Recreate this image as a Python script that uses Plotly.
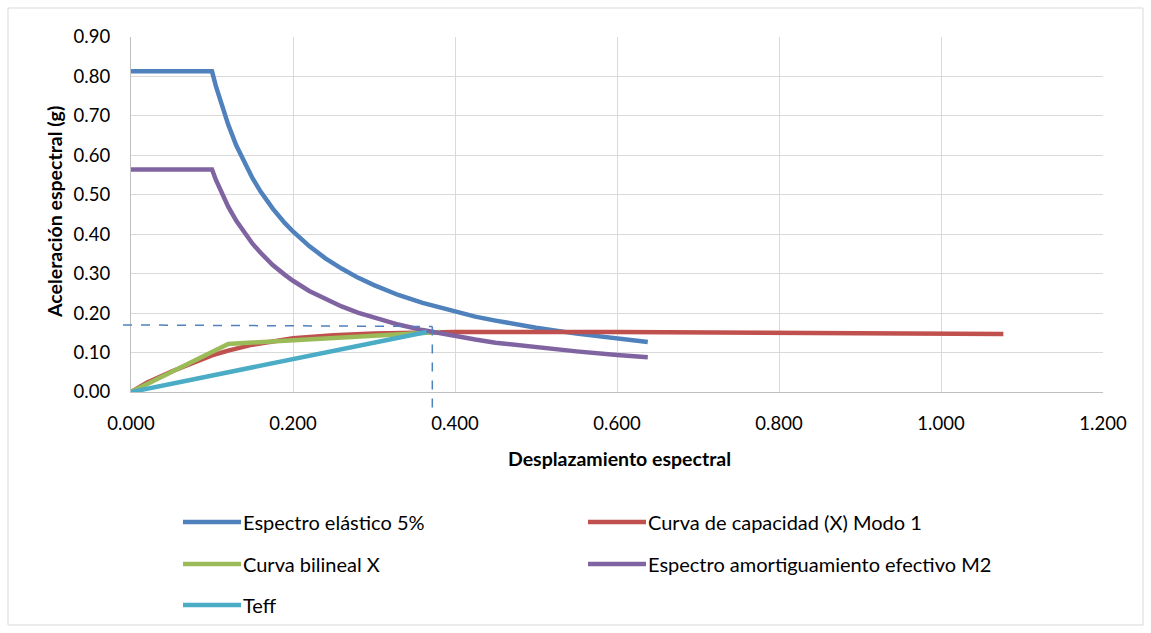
import plotly.graph_objects as go

# Spectral displacement (m) / spectral acceleration (g) samples
sd_spec = [0.0, 0.1, 0.105, 0.11, 0.115, 0.12, 0.13, 0.14, 0.15, 0.16, 0.175, 0.19,
           0.2, 0.22, 0.24, 0.26, 0.28, 0.3, 0.33, 0.36, 0.4, 0.425, 0.45, 0.475, 0.5,
           0.55, 0.6, 0.638]
sa_elastic = [0.813, 0.813, 0.774, 0.739, 0.707, 0.678, 0.625, 0.581, 0.542, 0.508,
              0.465, 0.428, 0.407, 0.370, 0.339, 0.313, 0.290, 0.271, 0.246, 0.226,
              0.203, 0.191, 0.181, 0.171, 0.163, 0.148, 0.136, 0.127]
sa_damped = [0.564, 0.564, 0.537, 0.513, 0.490, 0.470, 0.434, 0.403, 0.376, 0.353,
             0.322, 0.297, 0.282, 0.256, 0.235, 0.217, 0.201, 0.188, 0.171, 0.157,
             0.141, 0.133, 0.125, 0.119, 0.113, 0.103, 0.094, 0.088]

sd_cap = [0.0, 0.02, 0.05, 0.08, 0.1, 0.12, 0.15, 0.2, 0.25, 0.3, 0.35, 0.4, 0.6,
          0.8, 1.0, 1.077]
sa_cap = [0.0, 0.024, 0.052, 0.078, 0.093, 0.105, 0.12, 0.136, 0.144, 0.148, 0.151,
          0.152, 0.152, 0.151, 0.149, 0.147]

sd_bilin = [0.0, 0.12, 0.382]
sa_bilin = [0.0, 0.122, 0.152]

sd_teff = [0.0, 0.365]
sa_teff = [0.0, 0.152]

# Performance point guides
perf_sd = 0.372
perf_sa = 0.17

series_names = ["Espectro elástico 5%", "Curva de capacidad (X) Modo 1",
                "Curva bilineal X", "Espectro amortiguamiento efectivo M2", "Teff"]
series_colors = ["#4F81BD", "#C0504D", "#9BBB59", "#8064A2", "#4BACC6"]

x_ticks = [0.0, 0.2, 0.4, 0.6, 0.8, 1.0, 1.2]
y_ticks = [0.0, 0.1, 0.2, 0.3, 0.4, 0.5, 0.6, 0.7, 0.8, 0.9]

FONT = "Lato, 'Open Sans', sans-serif"
W, H = 1151, 633
ML, MR, MT, MB = 131, 48, 37, 241
PW, PH = W - ML - MR, H - MT - MB

def px_x(px):
    return (px - ML) / PW

def px_y(py):
    return (H - MB - py) / PH

xs = [sd_spec, sd_cap, sd_bilin, sd_spec, sd_teff]
ys = [sa_elastic, sa_cap, sa_bilin, sa_damped, sa_teff]

fig = go.Figure()
for x, y, name, color in zip(xs, ys, series_names, series_colors):
    fig.add_trace(go.Scatter(x=x, y=y, mode="lines", name=name, showlegend=False,
                             line=dict(color=color, width=4.5)))

shapes = []
annotations = []

# dashed guides to the performance point
shapes.append(dict(type="line", xref="paper", yref="y", x0=px_x(123), x1=perf_sd / 1.2,
                   y0=perf_sa, y1=perf_sa - 0.004,
                   line=dict(color="#4F81BD", width=1.5, dash="dash")))
shapes.append(dict(type="line", xref="x", yref="paper", x0=perf_sd, x1=perf_sd,
                   y0=(perf_sa - 0.004) / 0.9, y1=px_y(411),
                   line=dict(color="#4F81BD", width=1.5, dash="dash")))

# chart border
shapes.append(dict(type="rect", xref="paper", yref="paper", x0=px_x(8), x1=px_x(1143),
                   y0=px_y(625), y1=px_y(8), line=dict(color="#D9D9D9", width=1),
                   layer="below"))

# legend
legend_pos = [(183, 522), (588, 522), (183, 564), (588, 564), (183, 605)]
for (lx, ly), name, color in zip(legend_pos, series_names, series_colors):
    shapes.append(dict(type="line", xref="paper", yref="paper", x0=px_x(lx), x1=px_x(lx + 58),
                       y0=px_y(ly), y1=px_y(ly), line=dict(color=color, width=4.5)))
    annotations.append(dict(xref="paper", yref="paper", x=px_x(lx + 58), y=px_y(ly),
                            text=name, showarrow=False, xanchor="left", yanchor="middle",
                            font=dict(family=FONT, size=20, color="#000000")))

# axis titles
annotations.append(dict(xref="paper", yref="paper", x=px_x(619), y=px_y(458),
                        text="<b>Desplazamiento espectral</b>", showarrow=False,
                        xanchor="center", yanchor="middle",
                        font=dict(family=FONT, size=19.5, color="#000000")))
annotations.append(dict(xref="paper", yref="paper", x=px_x(54), y=px_y(212),
                        text="<b>Aceleración espectral (g)</b>", showarrow=False,
                        textangle=-90, xanchor="center", yanchor="middle",
                        font=dict(family=FONT, size=19.5, color="#000000")))

fig.update_layout(
    width=W, height=H,
    margin=dict(l=ML, r=MR, t=MT, b=MB),
    paper_bgcolor="#FFFFFF", plot_bgcolor="#FFFFFF",
    shapes=shapes, annotations=annotations,
    font=dict(family=FONT, size=18.5, color="#000000"),
    xaxis=dict(range=[0, 1.2], tickvals=x_ticks, tickformat=".3f",
               showgrid=True, gridcolor="#D9D9D9", gridwidth=1.3,
               showline=True, linecolor="#BFBFBF", linewidth=1.3,
               zeroline=False, ticks="", ticklabelstandoff=15,
               tickfont=dict(size=18.5)),
    yaxis=dict(range=[0, 0.9], tickvals=y_ticks, tickformat=".2f",
               showgrid=True, gridcolor="#D9D9D9", gridwidth=1.3,
               showline=True, linecolor="#BFBFBF", linewidth=1.3,
               zeroline=False, ticks="", ticklabelstandoff=16,
               tickfont=dict(size=18.5)),
)

fig.write_html("out.html")
